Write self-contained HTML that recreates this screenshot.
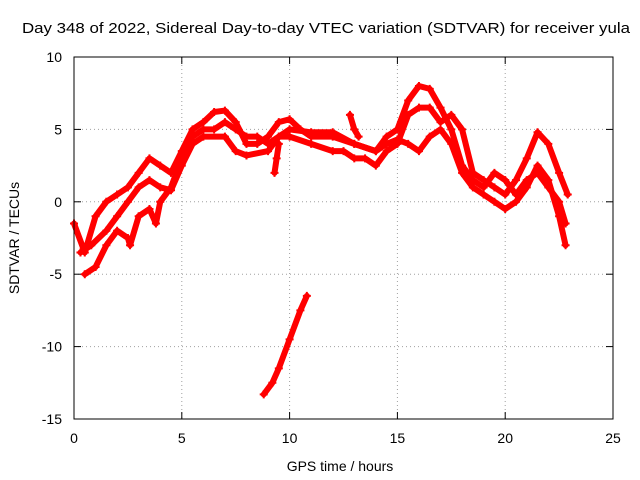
<!DOCTYPE html>
<html><head><meta charset="utf-8"><style>
body{margin:0;background:#fff}
svg{display:block;font-family:"Liberation Sans",sans-serif}
</style></head><body>
<svg id="chart" width="640" height="480">
<text x="326" y="33" text-anchor="middle" font-size="15" textLength="608" lengthAdjust="spacingAndGlyphs">Day 348 of 2022, Sidereal Day-to-day VTEC variation (SDTVAR) for receiver yula</text>
<text x="340" y="471" text-anchor="middle" font-size="14">GPS time / hours</text>
<text transform="translate(19,238) rotate(-90)" text-anchor="middle" font-size="14">SDTVAR / TECUs</text>
<g id="grid"></g><g id="ticks"></g><g id="marks"></g>
<rect x="74" y="57" width="539" height="362" fill="none" stroke="#000"/>
</svg>
<script>
const xTicks=[0,5,10,15,20,25];
const yTicks=[10,5,0,-5,-10,-15];
const trackA=[[0,-1.5],[0.5,-3.5],[1,-1],[1.5,0],[2,0.5],[2.5,1],[3,2],[3.5,3],[4,2.5],[4.5,2],[5,3.5],[5.5,5],[6,5.5],[6.5,6.2],[7,6.3],[7.5,5.5],[8,4],[8.5,4],[9,4.5],[9.5,5.5],[10,5.7],[10.5,5],[11,4.5],[12,4.5],[13,4],[14,3.5],[14.5,4.5],[15,5],[15.5,7],[16,8],[16.5,7.8],[17,6.5],[17.5,5],[18,2.5],[18.5,1.5],[19,1],[19.5,2],[20,1.5],[20.5,0.5],[21,1.5],[21.5,2],[22,1],[22.5,0],[22.8,-1.5]];
const trackB=[[0.3,-3.5],[0.8,-3],[1.5,-2],[2,-1],[2.5,0],[3,1],[3.5,1.5],[4,1],[4.5,0.8],[5,2.5],[5.5,4],[6,4.5],[7,4.5],[7.5,3.5],[8,3.2],[9,3.5],[9.5,4.5],[10,5],[11,4.8],[12,4.8],[13,4],[14,3.5],[14.5,4],[15,4.3],[15.5,4],[16,3.5],[16.5,4.5],[17,5],[17.5,4],[18,2],[18.5,1],[19,0.5],[19.5,0],[20,-0.5],[20.5,0],[21,1],[21.5,2.5],[22,1.5],[22.5,-1],[22.8,-3]];
const trackC=[[0.5,-5],[1,-4.5],[1.5,-3],[2,-2],[2.5,-2.5],[2.6,-3],[3,-1],[3.5,-0.5],[3.8,-1.5],[4,0],[4.5,1],[5,3],[5.5,4.5],[6,5],[6.5,5],[7,5.5],[7.5,5],[8,4.5],[8.5,4.5],[9,4],[9.5,4.5],[10,4.5],[11,4],[12,3.5],[12.5,3.5],[13,3],[13.5,3],[14,2.5],[14.5,3.5],[15,4],[15.5,6],[16,6.5],[16.5,6.5],[17,5.5],[17.5,6],[18,5],[18.5,2],[19,1.5],[19.5,1],[20,0.5],[20.5,1.5],[21,3],[21.5,4.8],[22,4],[22.5,2],[22.9,0.5]];
const trackD=[[8.8,-13.3],[9.2,-12.5],[9.5,-11.5],[10,-9.5],[10.5,-7.5],[10.8,-6.5]];
const trackE=[[9.3,2],[9.4,3],[9.5,4]];
const trackF=[[12.8,6],[13,5],[13.2,4.5]];
const tracks=[trackA,trackB,trackC,trackD,trackE,trackF];
const NS='http://www.w3.org/2000/svg';
const X=v=>74+v*539/25, Y=v=>57+(10-v)*362/25;
function mk(t,a,p){const e=document.createElementNS(NS,t);for(const k in a)e.setAttribute(k,a[k]);p.appendChild(e);return e;}
const grid=document.getElementById('grid'),ticks=document.getElementById('ticks'),marks=document.getElementById('marks');
xTicks.forEach(t=>{
 if(t>0&&t<25){const l=mk('line',{x1:X(t),x2:X(t),y1:57,y2:419,stroke:'#a0a0a0','stroke-dasharray':'1,3'},grid);
 }
 mk('line',{x1:X(t),x2:X(t),y1:419,y2:412,stroke:'#000'},ticks);
 mk('line',{x1:X(t),x2:X(t),y1:57,y2:64,stroke:'#000'},ticks);
 const tx=mk('text',{x:X(t),y:443,'text-anchor':'middle','font-size':14},ticks);tx.textContent=t;
 
});
yTicks.forEach(t=>{
 if(t>-15&&t<10){const l=mk('line',{x1:74,x2:613,y1:Y(t),y2:Y(t),stroke:'#a0a0a0','stroke-dasharray':'1,3'},grid);
 }
 mk('line',{x1:74,x2:81,y1:Y(t),y2:Y(t),stroke:'#000'},ticks);
 mk('line',{x1:606,x2:613,y1:Y(t),y2:Y(t),stroke:'#000'},ticks);
 const tx=mk('text',{x:62,y:Y(t)+5,'text-anchor':'end','font-size':14},ticks);tx.textContent=t;
 
});
tracks.forEach((tr,i)=>{
 const p=mk('polyline',{points:tr.map(d=>X(d[0])+','+Y(d[1])).join(' '),fill:'none',stroke:'#ff0000','stroke-width':6,'stroke-linejoin':'round','stroke-linecap':'round'},marks);
 
 
 tr.forEach(d=>{
  const c=mk('path',{d:`M${X(d[0])-4},${Y(d[1])}h8M${X(d[0])},${Y(d[1])-4}v8`,stroke:'#ff0000','stroke-width':2},marks);
  
  
 });
});
</script>
</body></html>
